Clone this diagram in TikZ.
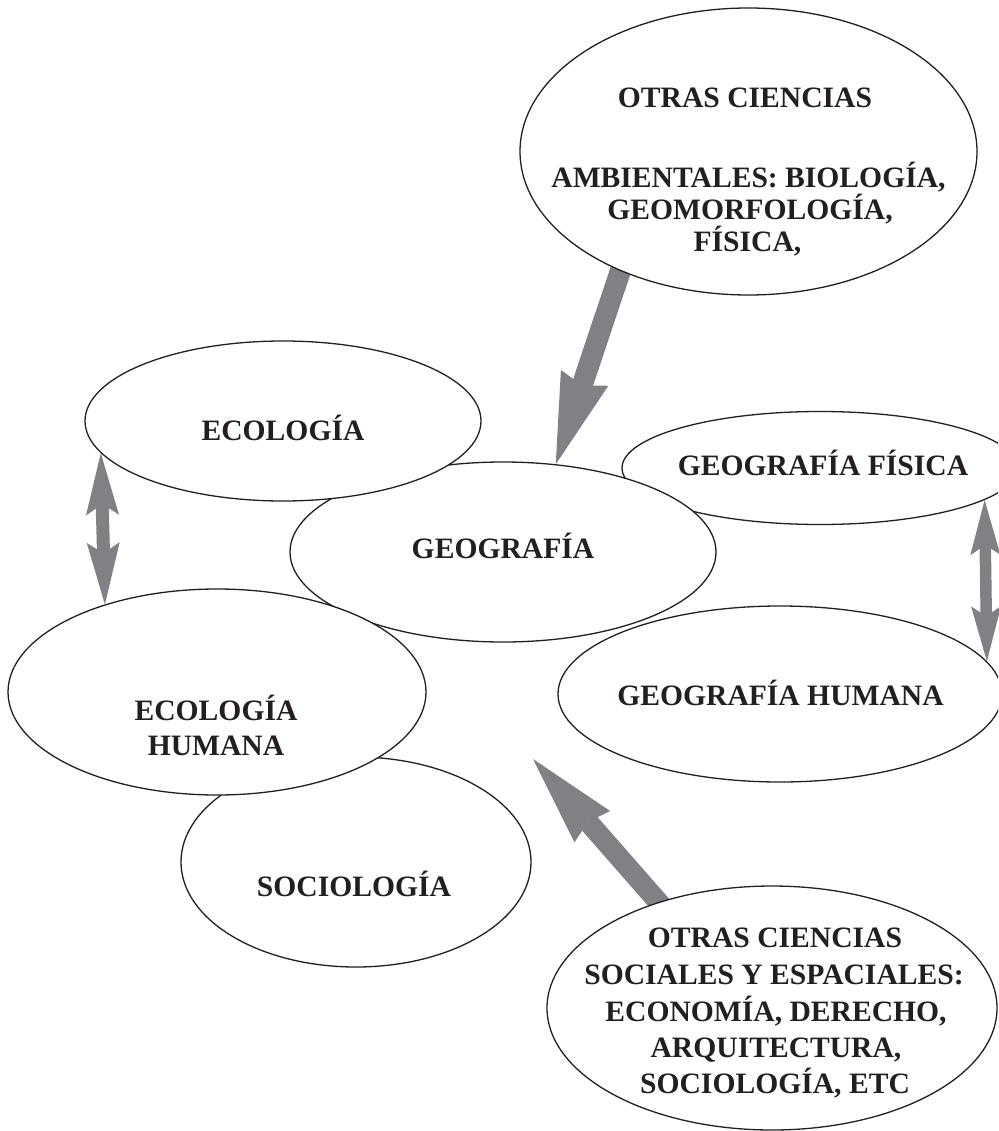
\documentclass[tikz,border=0pt]{standalone}
\usepackage{fontspec}
\setmainfont{Liberation Serif}
\usetikzlibrary{shapes.geometric,arrows.meta,backgrounds}
\definecolor{arrowgray}{RGB}{128,129,133}
\definecolor{linecol}{RGB}{35,31,32}
\begin{document}
\begin{tikzpicture}[x=1pt,y=-1pt,
  blob/.style={ellipse, draw=linecol, line width=1.3pt, fill=white, inner sep=0pt},
  blobopen/.style={blob, fill=none},
  lbl/.style={font=\fontsize{29.6}{32.6}\selectfont\bfseries, text=linecol, inner sep=0pt, anchor=base},
  bigarrow/.style={draw=arrowgray, line cap=butt, line width=#1},
  bigtip/.style={-{Stealth[length=91pt, width=50pt, inset=8pt, line width=0pt]}},
  lefttips/.style={{Stealth[length=62pt, width=33pt, inset=11pt, line width=0pt]}-{Stealth[length=62pt, width=33pt, inset=11pt, line width=0pt]}},
  righttips/.style={{Stealth[length=55pt, width=30pt, inset=10pt, line width=0pt]}-{Stealth[length=55pt, width=30pt, inset=10pt, line width=0pt]}}
]
\useasboundingbox (0,0) rectangle (998,1131);
\clip (0,0) rectangle (998,1131);

% ellipses (order gives the overlaps)
\node[blob, minimum width=396pt, minimum height=113pt] (geofis) at (820,468) {};
\node[blob, minimum width=426pt, minimum height=180pt] (geo) at (503,552) {};
\node[blob, minimum width=396pt, minimum height=160pt] (ecol) at (283,421) {};
\node[blob, minimum width=350pt, minimum height=210pt] (soc) at (356,862) {};
\node[blob, minimum width=418pt, minimum height=206pt] (ecolh) at (217,692) {};
\node[blobopen, minimum width=444pt, minimum height=176pt] (geohum) at (780,694) {};
\node[blob, minimum width=457pt, minimum height=287pt] (amb) at (748.5,151.5) {};
\node[blob, minimum width=450pt, minimum height=244pt] (socesp) at (772,1008) {};

\coordinate (socTip) at (533,759);

% arrows behind the ellipses
\begin{pgfonlayer}{background}
\fill[white] (0,0) rectangle (998,1131);
\draw[bigarrow=21pt, bigtip, shorten <=-25pt] (amb.223.16) -- (geo.59);
\draw[bigarrow=20.5pt, -{Stealth[length=90pt, width=47.5pt, inset=6.5pt, line width=0pt]}, shorten <=-25pt] (socesp.137.6) -- (socTip);
\draw[bigarrow=13pt, lefttips] (ecol.190.51) -- (ecolh.142.87);
\draw[bigarrow=11.5pt, righttips] (geofis.349.06) -- (geohum.9.65);
\end{pgfonlayer}

% texts
\node[lbl] (t1) at (745,108) {OTRAS CIENCIAS};
\node[lbl] (t2) at (748.5,188) {AMBIENTALES: BIOLOGÍA,};
\node[lbl] (t3) at (750,220) {GEOMORFOLOGÍA,};
\node[lbl] (t4) at (747.5,252) {FÍSICA,};

\node[lbl] (tecol) at (283,440) {ECOLOGÍA};
\node[lbl] (tgeo) at (503,558) {GEOGRAFÍA};
\node[lbl] (tgeofis) at (823,475) {GEOGRAFÍA FÍSICA};
\node[lbl] (tgeohum) at (780.5,705) {GEOGRAFÍA HUMANA};
\node[lbl] (tecolh1) at (216,720) {ECOLOGÍA};
\node[lbl] (tecolh2) at (216,755) {HUMANA};
\node[lbl] (tsoc) at (354,896) {SOCIOLOGÍA};

\node[lbl] (s1) at (775,947) {OTRAS CIENCIAS};
\node[lbl] (s2) at (774,984) {SOCIALES Y ESPACIALES:};
\node[lbl] (s3) at (776,1021) {ECONOMÍA, DERECHO,};
\node[lbl] (s4) at (776,1057) {ARQUITECTURA,};
\node[lbl] (s5) at (775,1093) {SOCIOLOGÍA, ETC};
\end{tikzpicture}
\end{document}
